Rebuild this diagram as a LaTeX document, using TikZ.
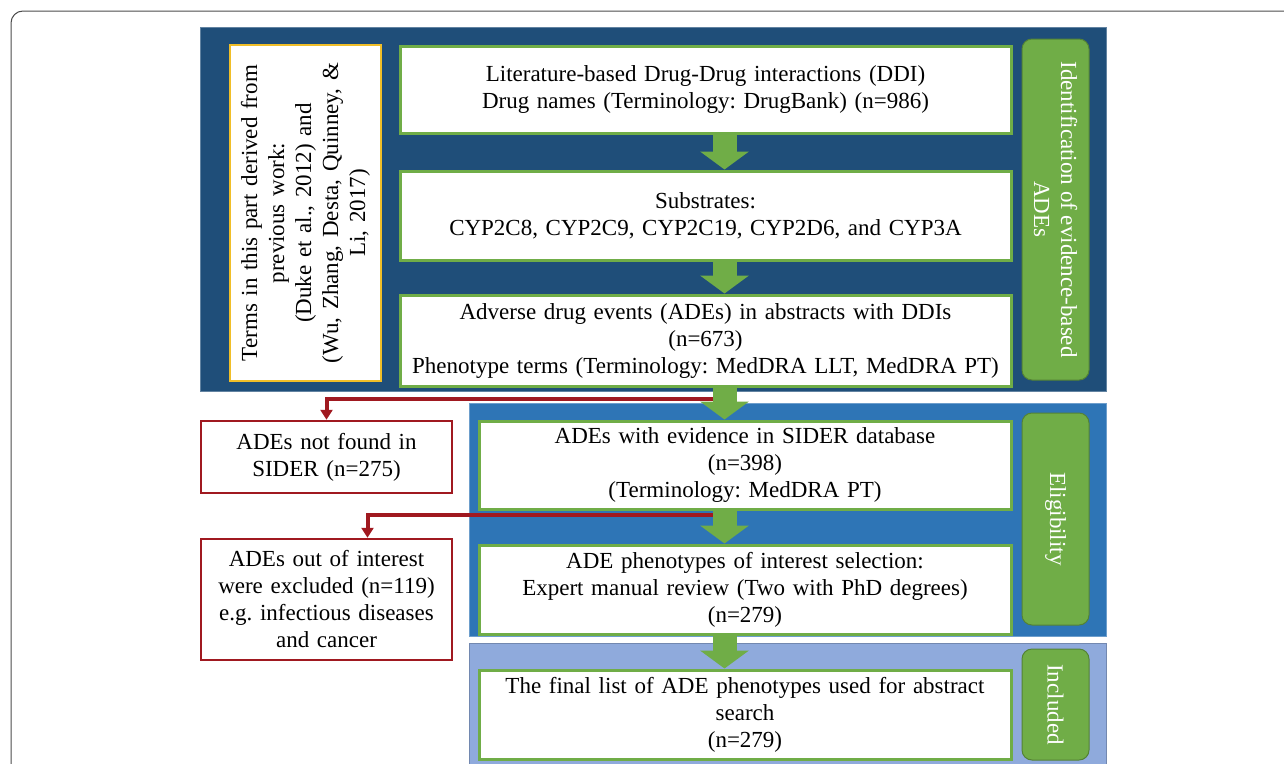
\documentclass[tikz,border=0pt]{standalone}
\usepackage{fontspec}
\setmainfont{Liberation Serif}
\usepackage{xcolor}
\usepackage{tikz}
\usetikzlibrary{arrows.meta, positioning}
\frenchspacing

\definecolor{panelone}{RGB}{31,78,121}
\definecolor{paneltwo}{RGB}{46,117,182}
\definecolor{panelthree}{RGB}{143,170,220}
\definecolor{stepgreen}{RGB}{112,173,71}
\definecolor{labelgreen}{RGB}{84,130,53}
\definecolor{exred}{RGB}{160,25,32}
\definecolor{sourcegold}{RGB}{240,190,40}

\begin{document}
\begin{tikzpicture}[
  x=1pt, y=-1pt,
  every node/.style={font=\fontsize{23}{27}\selectfont},
  stepbox/.style={rectangle, draw=stepgreen, line width=3pt, fill=white,
                  align=center, inner sep=4pt, minimum height=88pt},
  widebox/.style={stepbox, minimum width=611pt, text width=597pt},
  narrowbox/.style={stepbox, minimum width=532pt, text width=518pt},
  exclbox/.style={rectangle, draw=exred, line width=2.5pt, fill=white,
                  align=center, inner sep=4pt, minimum width=251pt, text width=240pt},
  sourcebox/.style={rectangle, draw=sourcegold, line width=2pt, fill=white,
                    align=center, inner sep=4pt, rotate=90,
                    minimum width=336pt, minimum height=151pt, text width=326pt},
  phasebox/.style={rectangle, rounded corners=10pt, draw=labelgreen, line width=1pt,
                   fill=stepgreen, text=white, align=center, rotate=-90,
                   minimum height=67pt},
  panel/.style={line width=1pt},
  flowarrow/.style={draw=stepgreen, line width=24pt, -{Triangle[width=48pt, length=18pt]}},
  exarrow/.style={draw=exred, line width=4pt, -{Triangle[width=12pt, length=10pt]}}
]
\useasboundingbox (0,0) rectangle (1284,763);
\clip (0,0) rectangle (1284,763);
\draw[gray!60!black, line width=1pt, rounded corners=12pt] (11,11) rectangle (1330,810);

\draw[panel, fill=panelone, draw=panelone!70!white] (200,27) rectangle (1106,391);
\draw[panel, fill=paneltwo, draw=paneltwo!70!white] (469,403) rectangle (1106,636);
\draw[panel, fill=panelthree, draw=panelthree!80!black] (469,643) rectangle (1106,775);

\node[sourcebox] (source) at (305.5,213) {Terms in this part derived from\\ previous work:\\ (Duke et al., 2012) and\\ (Wu, Zhang, Desta, Quinney, \&\\ Li, 2017)};

\node[widebox, minimum height=87pt] (ddi) at (705.5,89.5) {%
  Literature-based Drug-Drug interactions (DDI)\\
  Drug names (Terminology: DrugBank) (n=986)};
\node[widebox, minimum height=89pt, below=35pt of ddi] (substrates) {%
  Substrates:\\
  CYP2C8, CYP2C9, CYP2C19, CYP2D6, and CYP3A};
\node[widebox, minimum height=91pt, below=32pt of substrates] (ades) {%
  Adverse drug events (ADEs) in abstracts with DDIs\\
  (n=673)\\
  Phenotype terms (Terminology: MedDRA LLT, MedDRA PT)};
\node[narrowbox, below=32pt of ades.south east, anchor=north east] (sider) {%
  ADEs with evidence in SIDER database\\
  (n=398)\\
  (Terminology: MedDRA PT)};
\node[narrowbox, minimum height=89pt, below=33pt of sider] (selection) {%
  ADE phenotypes of interest selection:\\
  Expert manual review (Two with PhD degrees)\\
  (n=279)};
\node[narrowbox, minimum height=89pt, below=33pt of selection] (final) {%
  The final list of ADE phenotypes used for abstract\\
  search\\
  (n=279)};

\node[phasebox, minimum width=341pt] (labident) at (1055.5,209.5) {Identification of evidence-based\\ ADEs};
\node[phasebox, minimum width=212pt] (labelig) at (1055.5,519) {Eligibility};
\node[phasebox, minimum width=111pt] (labincl) at (1055.5,704.5) {Included};

\node[exclbox, minimum height=72pt] (notsider) at (326.5,457) {ADEs not found in\\ SIDER (n=275)};
\node[exclbox, minimum height=121pt] (excluded) at (326.5,599.5) {ADEs out of interest\\ were excluded (n=119)\\ e.g. infectious diseases\\ and cancer};

\coordinate (ax) at (724.5,0);
\coordinate (cut1) at (724.5,399);
\coordinate (cut2) at (724.5,515);

\draw[exarrow] (cut1) -| (notsider.north);
\draw[exarrow] (cut2) -| ([xshift=41pt]excluded.north);

\draw[flowarrow] (ddi.south -| ax) -- (substrates.north -| ax);
\draw[flowarrow] (substrates.south -| ax) -- (ades.north -| ax);
\draw[flowarrow] (ades.south -| ax) -- (sider.north -| ax);
\draw[flowarrow] (sider.south -| ax) -- (selection.north -| ax);
\draw[flowarrow] (selection.south -| ax) -- (final.north -| ax);
\end{tikzpicture}
\end{document}
